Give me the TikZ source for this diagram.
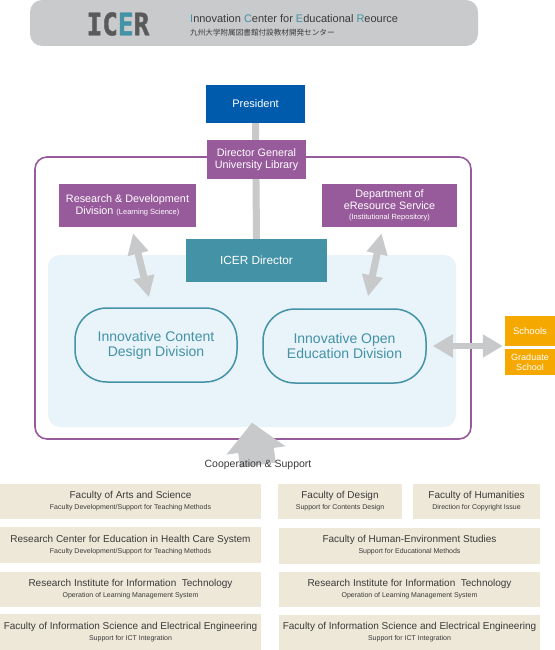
\documentclass[tikz,border=0pt]{standalone}
\usepackage{fontspec}
\setmainfont{Liberation Sans}
\newfontfamily\logofont[FakeBold=1.2]{DejaVu Sans Mono Bold}
\newfontfamily\jpfont{Noto Sans CJK JP}
\usetikzlibrary{arrows.meta,positioning,calc}

\definecolor{bannergray}{HTML}{C9CACB}
\definecolor{linkgray}{HTML}{C8C9CA}
\definecolor{logogray}{HTML}{5A5A5A}
\definecolor{presblue}{HTML}{005BAC}
\definecolor{icerpurple}{HTML}{975A9B}
\definecolor{icerteal}{HTML}{4492A6}
\definecolor{regionblue}{HTML}{E8F3FA}
\definecolor{icerorange}{HTML}{F5A800}
\definecolor{beige}{HTML}{EEE8D8}
\definecolor{textgray}{HTML}{3A3A3A}

\newcommand{\fsize}[2]{\fontsize{#1}{#2}\selectfont}
\newcommand{\fac}[2]{#1\\[0pt]{\fsize{7}{8}#2}}

\pgfdeclarelayer{back}
\pgfdeclarelayer{links}
\pgfsetlayers{back,links,main}

\tikzstyle{box} = [rectangle, inner sep=0pt, align=center, text=white]
\tikzstyle{purplebox} = [box, fill=icerpurple, minimum height=43pt, font=\fsize{10.8}{12}]
\tikzstyle{division} = [rectangle, draw=icerteal, line width=1.5pt, rounded corners=32pt,
    minimum width=162pt, minimum height=74pt, text=icerteal, align=center, font=\fsize{14}{15}]
\tikzstyle{faculty} = [rectangle, fill=beige, text=textgray, inner sep=0pt, align=center,
    minimum width=261pt, minimum height=35pt, font=\fsize{10}{11}]
\tikzstyle{line} = [draw=linkgray, line width=7pt]
\tikzstyle{duo} = [line, {Triangle[width=20pt,length=21pt]}-{Triangle[width=20pt,length=21pt]}]

\begin{document}
\begin{tikzpicture}[x=1pt, y=-1pt]
    \useasboundingbox (0,0) rectangle (554,650);

    % title banner
    \node [fill=bannergray, rounded corners=12pt, minimum width=448pt, minimum height=46pt, inner sep=0pt] (banner) at (254,23) {};
    \node [text=logogray, inner sep=0pt] (logo) at (118,24) {\logofont\fsize{31}{31}\scalebox{0.84}[1]{IC\textcolor{icerteal}{E}R}};
    \node [anchor=base west, inner sep=0pt, text=textgray] (title) at (190,23) {\fsize{11}{13}\textcolor{icerteal}{I}nnovation \textcolor{icerteal}{C}enter for \textcolor{icerteal}{E}ducational \textcolor{icerteal}{R}eource};
    \node [anchor=base west, inner sep=0pt, text=textgray] (jptitle) at (190,36) {\jpfont\fsize{7.6}{9}九州大学附属図書館付設教材開発センター};

    % organisation
    \begin{pgfonlayer}{back}
        \draw [icerpurple, line width=1.6pt, rounded corners=12pt] (35,157) rectangle (471,439);
        \node [fill=regionblue, rounded corners=12pt, minimum width=408pt, minimum height=172pt, inner sep=0pt] (Core) at (252,341) {};
    \end{pgfonlayer}

    \node [box, fill=presblue, minimum width=99pt, minimum height=38pt, font=\fsize{11}{13}] (President) at (255.5,104) {President};
    \node [purplebox, minimum width=99pt, minimum height=39pt] (DirGeneral) at (256.5,159.5) {Director General\\University Library};
    \node [purplebox, minimum width=137pt] (RnD) at (127.5,205.5) {Research \& Development\\Division {\fsize{7.5}{9}(Learning Science)}};
    \node [purplebox, minimum width=135pt] (Dept) at (389.5,205.5) {Department of\\eResource Service\\[-2pt]{\fsize{7.5}{8}(Institutional Repository)}};
    \node [box, fill=icerteal, minimum width=141pt, minimum height=43pt, font=\fsize{11.8}{13}] (Director) at (256.5,260.5) {ICER Director};
    \node [division] (Content) at (156,345) {Innovative Content\\Design Division};
    \node [division, minimum width=163pt] (Open) at (344.5,346) {Innovative Open\\Education Division};
    \node [box, fill=icerorange, minimum width=50pt, minimum height=30pt, font=\fsize{9.5}{11}] (Schools) at (530,331) {Schools};
    \node [box, fill=icerorange, minimum width=50pt, minimum height=26pt, font=\fsize{9}{10}, below=3pt of Schools] (Graduate) {Graduate\\School};
    \node [text=textgray, font=\fsize{10.5}{12}] (Coop) at (258,465) {Cooperation \& Support};

    % faculties
    \node [faculty] (Arts) at (130.5,501.5) {\fac{Faculty of Arts and Science}{Faculty Development/Support for Teaching Methods}};
    \node [faculty, minimum width=124pt] (Design) at (340,501.5) {\fac{Faculty of Design}{Support for Contents Design}};
    \node [faculty, minimum width=127pt] (Humanities) at (476.5,501.5) {\fac{Faculty of Humanities}{Direction for Copyright Issue}};
    \node [faculty, minimum height=36pt] (Health) at (130.5,545) {\fac{Research Center for Education in Health Care System}{Faculty Development/Support for Teaching Methods}};
    \node [faculty, minimum height=36pt] (HumanEnv) at (409.5,545.5) {\fac{Faculty of Human-Environment Studies}{Support for Educational Methods}};
    \node [faculty] (RiitL) at (130.5,589.5) {\fac{Research Institute for Information~~Technology}{Operation of Learning Management System}};
    \node [faculty] (RiitR) at (409.5,589.5) {\fac{Research Institute for Information~~Technology}{Operation of Learning Management System}};
    \node [faculty, minimum height=36pt] (IsseL) at (130.5,632) {\fac{Faculty of Information Science and Electrical Engineering}{Support for ICT Integration}};
    \node [faculty, minimum height=36pt] (IsseR) at (409.5,632.5) {\fac{Faculty of Information Science and Electrical Engineering}{Support for ICT Integration}};

    % connectors
    \begin{pgfonlayer}{links}
        \path [line] (President.south) -- (Director.north);
        \path [duo] ([xshift=5.5pt,yshift=-6pt]RnD.south) -- ([xshift=-7pt,yshift=10pt]Content.north);
        \path [duo] ([xshift=-8pt,yshift=-6pt]Dept.south) -- ([xshift=23.5pt,yshift=12pt]Open.north);
        \path [line, line width=6pt, {Triangle[width=22pt,length=20pt]}-{Triangle[width=22pt,length=20pt]}] ([xshift=6pt]Open.east) -- ([xshift=-2pt]Open.east -| Schools.west);
        \path [line, line width=36pt, -{Triangle[width=58pt,length=28pt]}] (Coop.center) -- ([yshift=4.5pt]Core.south);
    \end{pgfonlayer}
\end{tikzpicture}
\end{document}
